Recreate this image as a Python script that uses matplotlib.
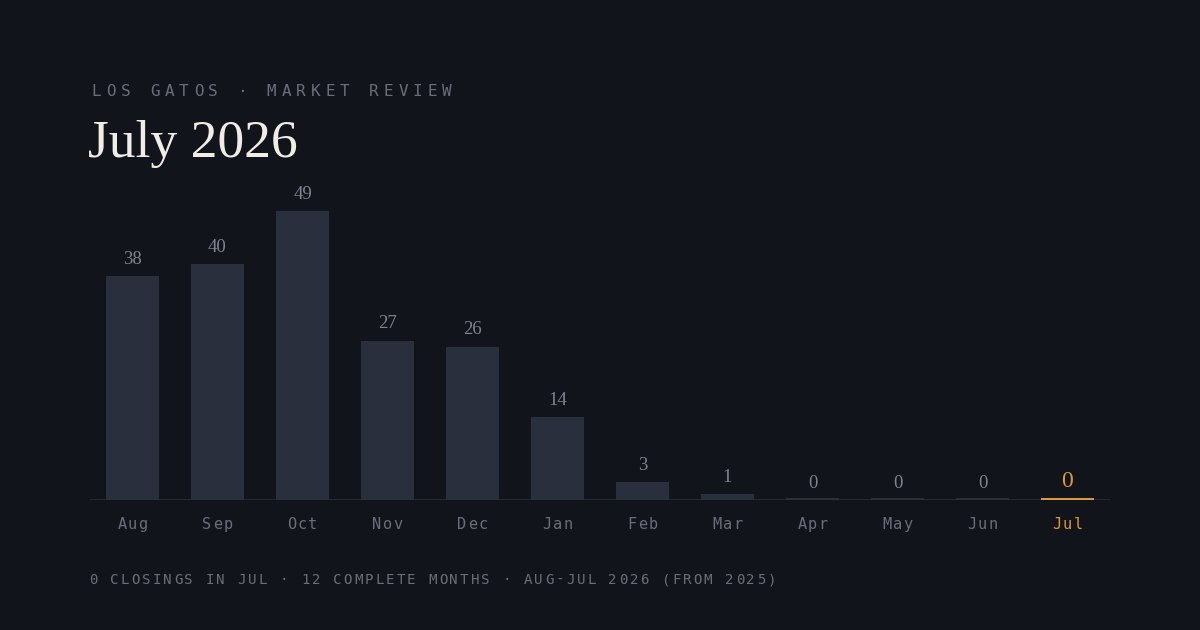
import matplotlib
matplotlib.use("Agg")
import matplotlib.pyplot as plt

months = ["Aug", "Sep", "Oct", "Nov", "Dec", "Jan", "Feb", "Mar", "Apr", "May", "Jun", "Jul"]
closings = [38, 40, 49, 27, 26, 14, 3, 1, 0, 0, 0, 0]
header = "LOS GATOS · MARKET REVIEW"
title = "July 2026"
footer = "0 CLOSINGS IN JUL · 12 COMPLETE MONTHS · AUG-JUL 2026 (FROM 2025)"

BG = "#12141c"
BAR = "#2a2f3e"
MUTED = "#6a6e7b"
LABEL = "#7f8290"
ORANGE = "#dc983f"
TITLE = "#f1ede5"

W, H = 1200, 630
fig = plt.figure(figsize=(12, 6.3), dpi=100, facecolor=BG)


def spaced(x, y, s, advance, ha="left", **kw):
    # letter-spaced text, x/y in pixels from top-left
    n = len(s)
    if ha == "center":
        x0 = x - n * advance / 2 + advance / 2
    else:
        x0 = x + advance / 2
    for i, ch in enumerate(s):
        fig.text((x0 + i * advance) / W, 1 - y / H, ch, ha="center", va="baseline", **kw)


mono = "DejaVu Sans Mono"
serif = "Liberation Serif"

spaced(89, 96, header, 14.6, family=mono, fontsize=11.5, color=MUTED)
fig.text(88 / W, 1 - 157 / H, title, family=serif, fontsize=38.5, color=TITLE, va="baseline")
spaced(88, 584, footer, 10.6, family=mono, fontsize=10.2, color=MUTED)

ax = fig.add_axes([90 / W, 130 / H, 1020 / W, 320 / H])
ax.set_facecolor(BG)
scale = 289 / 49
ax.set_ylim(0, 320 / scale)
ax.set_xlim(-0.5, len(months) - 0.5)
x = list(range(len(months)))

heights = [max(v, 0.4) for v in closings]
colors = [BAR] * (len(months) - 1) + [ORANGE]
heights[-1] = 0.4
ax.bar(x, heights, width=0.62, color=colors, linewidth=0)
ax.axhline(0, color="#2a2d38", linewidth=1.2, zorder=0)

for i, v in enumerate(closings):
    last = i == len(months) - 1
    ax.annotate(str(v), (i, v), xytext=(0, 6), textcoords="offset points",
                ha="center", va="bottom", family=serif,
                fontsize=17 if last else 13.5,
                color=ORANGE if last else LABEL)
    spaced(132.5 + 85 * i, 529, months[i], 10.5, ha="center", family=mono,
           fontsize=11, color=ORANGE if last else MUTED)

ax.set_xticks([])
ax.set_yticks([])
for s in ax.spines.values():
    s.set_visible(False)

fig.savefig("out.png", facecolor=BG)
